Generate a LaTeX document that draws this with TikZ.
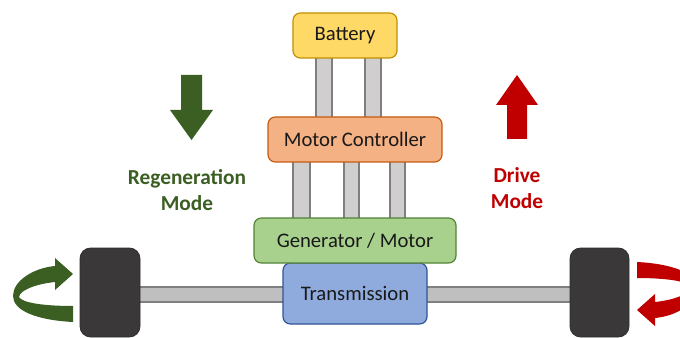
\documentclass[tikz,border=0pt]{standalone}
\usepackage{fontspec}
\setmainfont{Carlito}
\definecolor{batfill}{HTML}{FFD966}
\definecolor{batdraw}{HTML}{BF9000}
\definecolor{mcfill}{HTML}{F4B183}
\definecolor{mcdraw}{HTML}{C55A11}
\definecolor{genfill}{HTML}{A9D18E}
\definecolor{gendraw}{HTML}{548235}
\definecolor{trfill}{HTML}{8FAADC}
\definecolor{trdraw}{HTML}{2F5597}
\definecolor{barfill}{HTML}{D0CECE}
\definecolor{bardraw}{HTML}{7F7F7F}
\definecolor{axlefill}{HTML}{BFBFBF}
\definecolor{wheelfill}{HTML}{3A3838}
\definecolor{regen}{HTML}{3B5E22}
\definecolor{drive}{HTML}{C00000}
\tikzset{
  box/.style={draw, line width=0.9pt, rounded corners=5.5pt, text=black!90, font=\fontsize{15.5pt}{17pt}\selectfont},
  bar/.style={draw=bardraw, fill=barfill, line width=0.9pt},
  axle/.style={draw=bardraw, fill=axlefill, line width=0.9pt},
  wheel/.style={fill=wheelfill, draw=wheelfill!80!black, line width=0.6pt, rounded corners=8pt},
  modetext/.style={font=\bfseries\fontsize{16pt}{19pt}\selectfont, align=center}
}
\begin{document}
\begin{tikzpicture}[x=0.75pt,y=-0.75pt]
\useasboundingbox (0,0) rectangle (680,338);
\clip (0,0) rectangle (680,338);
\fill[white] (0,0) rectangle (680,338);
% axle
\draw[axle] (138,287) rectangle (285,302);
\draw[axle] (425,287) rectangle (572,302);
% wheels
\draw[wheel] (80,248) rectangle (140,337);
\draw[wheel] (570,248) rectangle (629,337);
% bars
\draw[bar] (316,57) rectangle (332,118);
\draw[bar] (365,57) rectangle (381,118);
\draw[bar] (293,161) rectangle (310,219);
\draw[bar] (344,161) rectangle (359,219);
\draw[bar] (390,161) rectangle (405,219);
% boxes
\node[box, fill=batfill, draw=batdraw, minimum width=104*0.75pt, minimum height=45*0.75pt] (bat) at (345,35.5) {Battery};
\node[box, fill=mcfill, draw=mcdraw, minimum width=174*0.75pt, minimum height=45*0.75pt] (mc) at (355,139.5) {Motor Controller};
\node[box, fill=trfill, draw=trdraw, minimum width=144*0.75pt, minimum height=61*0.75pt] (tr) at (355,293.5) {Transmission};
\node[box, fill=genfill, draw=gendraw, minimum width=202*0.75pt, minimum height=45*0.75pt] (gen) at (355,240.5) {Generator / Motor};
% mode arrows
\fill[regen] (181,75) -- (202,75) -- (202,110) -- (213,110) -- (191.5,140) -- (170,110) -- (181,110) -- cycle;
\fill[drive] (507,139) -- (527,139) -- (527,105) -- (538,105) -- (517,75) -- (496,105) -- (507,105) -- cycle;
\node[modetext, text=regen] (regtext) at (187,190) {Regeneration\\Mode};
\node[modetext, text=drive] (drtext) at (517,188) {Drive\\Mode};
% curved arrows
\fill[regen] (73,322) .. controls (35,320) and (13,310) .. (13,296)
  .. controls (13,281) and (33,268) .. (55,266) -- (55,258) -- (73,274) -- (55,290) -- (55,282)
  .. controls (36,284) and (20,290) .. (19,297)
  .. controls (22,303) and (45,306) .. (73,306) -- cycle;
\begin{scope}[shift={(710,584)}, xscale=-1, yscale=-1]
\fill[drive] (73,322) .. controls (35,320) and (13,310) .. (13,296)
  .. controls (13,281) and (33,268) .. (55,266) -- (55,258) -- (73,274) -- (55,290) -- (55,282)
  .. controls (36,284) and (20,290) .. (19,297)
  .. controls (22,303) and (45,306) .. (73,306) -- cycle;
\end{scope}
\end{tikzpicture}
\end{document}
